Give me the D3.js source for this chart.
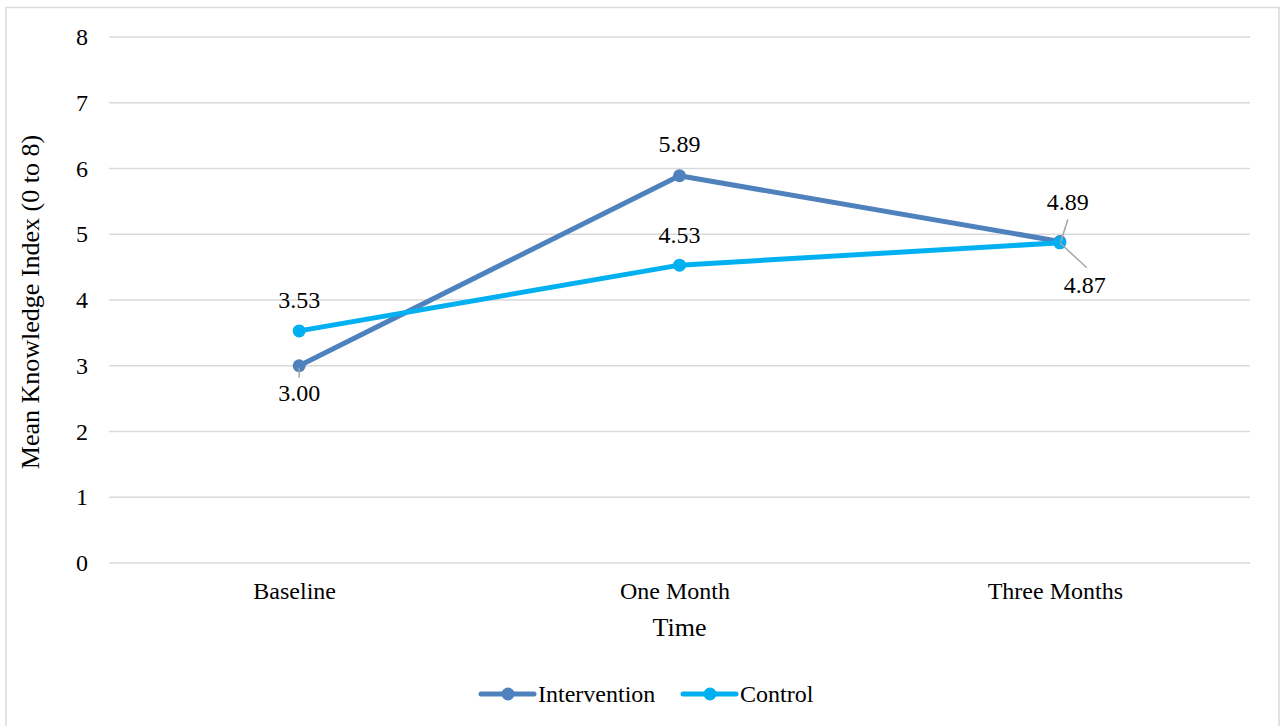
<!DOCTYPE html>
<html>
<head>
<meta charset="utf-8">
<script src="https://cdn.jsdelivr.net/npm/d3@7/dist/d3.min.js"></script>
<style>
  body { margin: 0; background: #fff; }
  svg { display: block; }
  text { font-family: "Liberation Serif", "Times New Roman", serif; fill: #000; }
</style>
</head>
<body>
<svg id="chart" width="1284" height="726"></svg>
<script>
const categories = ["Baseline", "One Month", "Three Months"];
const intervention = [3.00, 5.89, 4.89];
const control = [3.53, 4.53, 4.87];
const yTicks = [0, 1, 2, 3, 4, 5, 6, 7, 8];
const seriesNames = ["Intervention", "Control"];
const colors = ["#4F81BD", "#00B0F0"];

(function () {
const svg = d3.select("#chart");
const FONT = "Liberation Serif, Times New Roman, serif";

// outer border
svg.append("rect").attr("x", 6).attr("y", 7.5).attr("width", 1273).attr("height", 730)
  .attr("fill", "#fff").attr("stroke", "#d9d9d9").attr("stroke-width", 1.5);

const pLeft = 109, pRight = 1250, pTop = 37, pBottom = 563;
const x = d3.scalePoint().domain(categories).range([pLeft, pRight]).padding(0.5);
const y = d3.scaleLinear().domain([0, 8]).range([pBottom, pTop]);

// gridlines
svg.append("g").selectAll("line").data(yTicks).join("line")
  .attr("x1", pLeft).attr("x2", pRight)
  .attr("y1", d => y(d)).attr("y2", d => y(d))
  .attr("stroke", "#d9d9d9").attr("stroke-width", 1.5);

// y axis labels
const yAxis = svg.append("g").attr("transform", `translate(${pLeft},0)`)
  .call(d3.axisLeft(y).tickValues(yTicks).tickSize(0).tickPadding(21).tickFormat(d3.format("d")));
yAxis.select(".domain").remove();
yAxis.selectAll("text").style("font-family", FONT).style("font-size", "24px").attr("fill", "#000");

// x axis labels
const xAxis = svg.append("g").attr("transform", `translate(-5,${pBottom})`)
  .call(d3.axisBottom(x).tickSize(0).tickPadding(19));
xAxis.select(".domain").remove();
xAxis.selectAll("text").style("font-family", FONT).style("font-size", "24px").attr("fill", "#000");

// axis titles
svg.append("text").attr("x", (pLeft + pRight) / 2).attr("y", 636)
  .attr("text-anchor", "middle").style("font-size", "26px").text("Time");
svg.append("text").attr("transform", `translate(39,${302}) rotate(-90)`)
  .attr("text-anchor", "middle").style("font-size", "26px").text("Mean Knowledge Index (0 to 8)");

const line = d3.line().x((d, i) => x(categories[i])).y(d => y(d));
const allSeries = [intervention, control];

allSeries.forEach((s, k) => {
  svg.append("path").datum(s).attr("d", line)
    .attr("fill", "none").attr("stroke", colors[k]).attr("stroke-width", 5)
    .attr("stroke-linejoin", "round").attr("stroke-linecap", "round");
});
allSeries.forEach((s, k) => {
  svg.append("g").selectAll("circle").data(s).join("circle")
    .attr("cx", (d, i) => x(categories[i])).attr("cy", d => y(d)).attr("r", 6.5)
    .attr("fill", colors[k]);
});

// leader lines
const lead = "#a6a6a6";
const pI0 = [x(categories[0]), y(intervention[0])];
svg.append("line").attr("x1", pI0[0]).attr("y1", pI0[1] + 2).attr("x2", pI0[0]).attr("y2", pI0[1] + 12)
  .attr("stroke", lead).attr("stroke-width", 1.5);
const pI2 = [x(categories[2]), y(intervention[2])];
svg.append("line").attr("x1", pI2[0] + 1).attr("y1", pI2[1]).attr("x2", pI2[0] + 8).attr("y2", pI2[1] - 22)
  .attr("stroke", lead).attr("stroke-width", 1.5);
const pC2 = [x(categories[2]), y(control[2])];
svg.append("line").attr("x1", pC2[0]).attr("y1", pC2[1]).attr("x2", pC2[0] + 27).attr("y2", pC2[1] + 25)
  .attr("stroke", lead).attr("stroke-width", 1.5);

// data labels (baseline offsets from point)
const fmt = d3.format(".2f");
const labelOffsets = [
  [[0, 35], [0, -24], [8, -31]],
  [[0, -23], [0, -22], [25, 50]]
];
allSeries.forEach((s, k) => {
  s.forEach((v, i) => {
    const px = x(categories[i]), py = y(v);
    const [dx, dy] = labelOffsets[k][i];
    svg.append("text").attr("x", px + dx).attr("y", py + dy)
      .attr("text-anchor", "middle").style("font-size", "24px").text(fmt(v));
  });
});

// legend
const legendItems = [
  { name: seriesNames[0], color: colors[0], x0: 481 },
  { name: seriesNames[1], color: colors[1], x0: 683 }
];
const ly = 694;
legendItems.forEach(it => {
  svg.append("line").attr("x1", it.x0).attr("x2", it.x0 + 53).attr("y1", ly).attr("y2", ly)
    .attr("stroke", it.color).attr("stroke-width", 5).attr("stroke-linecap", "round");
  svg.append("circle").attr("cx", it.x0 + 27).attr("cy", ly).attr("r", 6.5).attr("fill", it.color);
  svg.append("text").attr("x", it.x0 + 57).attr("y", ly + 8)
    .style("font-size", "24px").text(it.name);
});
})();
</script>
</body>
</html>
